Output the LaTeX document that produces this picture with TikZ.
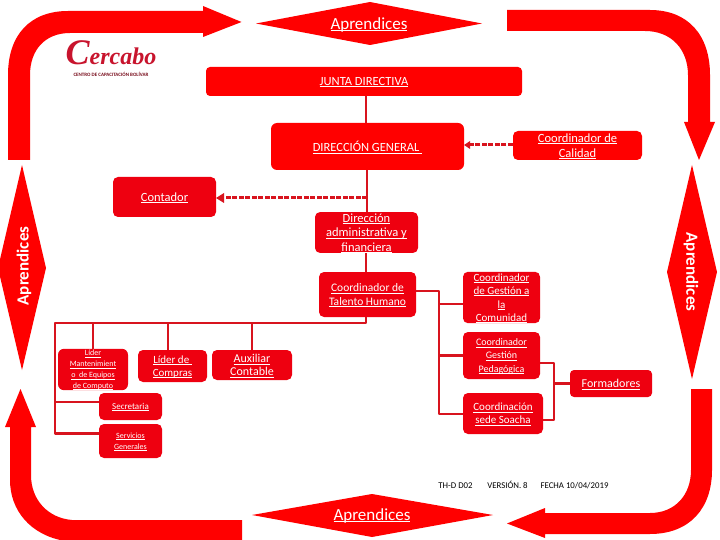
\documentclass[tikz,border=0pt]{standalone}
\usepackage{fontspec}
\setmainfont{Carlito}
\newfontfamily\logofont{Liberation Serif}
\newcommand{\ul}[1]{\setbox0\hbox{#1}\leavevmode\rlap{\raisebox{-1.6pt}{\rlap{\rule[-1.7pt]{\wd0}{0.8pt}}\copy0}}\phantom{\box0}}
\tikzset{
  x=1pt,y=-1pt,
  bright/.style={fill=brightred,draw=none},
  orgbox/.style={fill=boxred,draw=none,rounded corners=5pt,text=white,align=center,inner sep=0pt},
  conn/.style={draw=linered,line width=2.6pt,line join=round},
  dashconn/.style={draw=linered,line width=3pt,dash pattern=on 5pt off 1.5pt},
  tip/.style={fill=linered,draw=none},
  banner/.style={text=white,inner sep=0pt},
  foot/.style={text=black,font=\fontsize{8.8}{9}\selectfont,inner sep=0pt,anchor=base}
}
\definecolor{brightred}{HTML}{FF0000}
\definecolor{boxred}{HTML}{EE0010}
\definecolor{linered}{HTML}{D8141E}
\definecolor{logored}{HTML}{C8142D}
\newcommand{\fs}[1]{\fontsize{#1}{#1}\selectfont}
\begin{document}
\begin{tikzpicture}
\useasboundingbox (0,0) rectangle (720,540);
\fill[white] (0,0) rectangle (720,540);
% big arrows
\fill[bright] (8,160) -- (8,75) .. controls (8,35) and (30,11) .. (68,11) -- (203,11) -- (203,6) -- (241.5,22) -- (203,37) -- (203,33) -- (70,33) .. controls (45,33) and (30,50) .. (30,75) -- (30,160) -- cycle;
\fill[bright] (507,10) -- (650,10) .. controls (688,10) and (710,35) .. (710,75) -- (710,122) -- (715,122) -- (699,160) -- (684,122) -- (688,122) -- (688,75) .. controls (688,50) and (672,31) .. (645,31) -- (507,31) -- cycle;
\fill[bright] (691,389) -- (712,389) -- (712,470) .. controls (712,508) and (690,534) .. (650,534) -- (545,534) -- (545,538) -- (507,523.5) -- (545,508) -- (545,513) -- (650,513) .. controls (675,513) and (691,495) .. (691,470) -- cycle;
\fill[bright] (242,520) -- (242,541) -- (65,541) .. controls (30,535) and (10,510) .. (10,480) -- (10,427) -- (5,427) -- (20.5,389) -- (36,427) -- (31,427) -- (31,475) .. controls (31,500) and (48,518) .. (72,520) -- cycle;
% diamonds
\fill[bright] (256,23.5) -- (370,2) -- (482,23.5) -- (370,45) -- cycle;
\fill[bright] (252,515) -- (372,494) -- (493,515) -- (372,537) -- cycle;
\fill[bright] (22,165) -- (46,268) -- (22,370) -- (-2,268) -- cycle;
\fill[bright] (692,165) -- (717,272) -- (692,379) -- (667,272) -- cycle;
\node[banner,font=\fs{17}] (aprtop) at (369,24) {\ul{Aprendices}};
\node[banner,font=\fs{17}] (aprbot) at (372,515) {\ul{Aprendices}};
\node[banner,font=\fs{17}\bfseries,rotate=90] (aprleft) at (24,266) {Aprendices};
\node[banner,font=\fs{17}\bfseries,rotate=-90] (aprright) at (691,272) {Aprendices};
% logo
\node[text=logored,inner sep=0pt,font=\logofont\bfseries\itshape] (logo) at (111,53) {\fs{36}C\fs{24}ercabo};
\node[text=logored!60!black,inner sep=0pt,font=\fs{5}\bfseries] (logosub) at (111,74.5) {CENTRO DE CAPACITACIÓN BOLÍVAR};
% boxes
\node[orgbox,fill=brightred,rounded corners=4pt,minimum width=316pt,minimum height=29pt,font=\fs{12.5}] (junta) at (364,81.5) {\ul{JUNTA DIRECTIVA}};
\node[orgbox,fill=brightred,rounded corners=6pt,minimum width=193pt,minimum height=47pt,font=\fs{12.5}] (dir) at (367.5,146.5) {\ul{DIRECCIÓN GENERAL\ }};
\node[orgbox,fill=brightred,minimum width=129pt,minimum height=29pt,font=\fs{12.5}] (cal) at (577.5,145.5) {\ul{Coordinador de}\\[2pt]\ul{Calidad}};
\node[orgbox,rounded corners=5pt,minimum width=103pt,minimum height=40pt,font=\fs{12.5}] (cont) at (164.5,197) {\ul{Contador}};
\node[orgbox,minimum width=103pt,minimum height=39pt,font=\fs{12.5}] (adm) at (366.5,232.5) {\ul{Dirección}\\[2pt]\ul{administrativa y}\\[2pt]\ul{financiera}};
\node[orgbox,minimum width=97pt,minimum height=45pt,font=\fs{11.5}] (th) at (367.5,294.5) {\ul{Coordinador de}\\[2pt]\ul{Talento Humano}};
\node[orgbox,minimum width=77pt,minimum height=51pt,font=\fs{11}] (com) at (501.5,297.5) {\ul{Coordinador}\\[2.5pt]\ul{de Gestión a}\\[2.5pt]\ul{la}\\[2.5pt]\ul{Comunidad}};
\node[orgbox,minimum width=77pt,minimum height=47pt,font=\fs{10}] (ped) at (501.5,355.5) {\ul{Coordinador}\\[2pt]\ul{Gestión}\\[2pt]\ul{Pedagógica}};
\node[orgbox,minimum width=80pt,minimum height=41pt,font=\fs{11}] (sede) at (503,413.5) {\ul{Coordinación}\\[2pt]\ul{sede Soacha}};
\node[orgbox,rounded corners=4pt,minimum width=82pt,minimum height=27pt,font=\fs{12}] (form) at (611,383.5) {\ul{Formadores}};
\node[orgbox,rounded corners=6pt,minimum width=70pt,minimum height=41pt,font=\fs{8}] (mant) at (93,369.5) {\ul{Líder}\\[1pt]\ul{Mantenimient}\\[1pt]\ul{o\ \ de Equipos}\\[1pt]\ul{de Computo}};
\node[orgbox,minimum width=69pt,minimum height=32pt,font=\fs{11}] (comp) at (172.5,366) {\ul{Líder de\ }\\[2pt]\ul{Compras}};
\node[orgbox,minimum width=80pt,minimum height=30pt,font=\fs{12}] (aux) at (252,365) {\ul{Auxiliar}\\[1pt]\ul{Contable}};
\node[orgbox,minimum width=63pt,minimum height=27pt,font=\fs{9}] (sec) at (130.5,406.5) {\ul{Secretaria}};
\node[orgbox,minimum width=63pt,minimum height=34pt,font=\fs{8}] (serv) at (130.5,441) {\ul{Servicios}\\[1pt]\ul{Generales}};
% connectors
\coordinate (busl) at (55,323);
\coordinate (busr) at (366,323);
\coordinate (elbowa) at (439,291);
\coordinate (elbowb) at (439,414);
\coordinate (elbowc) at (554,363);
\coordinate (elbowd) at (554,420);
\coordinate (dashc) at (367,198);
\coordinate (secy) at (0,402);
\coordinate (servy) at (0,433.5);
\coordinate (comy) at (0,304);
\coordinate (caly) at (0,145);
\draw[conn] (junta.south -| 366,0) -- (dir.north -| 366,0);
\draw[conn] (dir.south -| 367,0) -- (adm.north -| 367,0);
\draw[conn] (adm.south -| 366,0) -- (th.north -| 366,0);
\draw[conn] (th.south -| 366,0) -- (busr) -- (busl) -- (busl |- servy) -- (serv.west |- servy);
\draw[conn] (sec.west |- secy) -- (busl |- secy);
\draw[conn] (mant.north) -- (mant.north |- busl);
\draw[conn] (168,350) -- (168,323);
\draw[conn] (aux.north) -- (aux.north |- busl);
\draw[conn] (th.east |- elbowa) -- (elbowa) -- (elbowb) -- (sede.west |- elbowb);
\draw[conn] (elbowa |- comy) -- (com.west |- comy);
\draw[conn] (elbowa |- ped.west) -- (ped.west);
\draw[conn] (ped.east |- elbowc) -- (elbowc) -- (elbowd) -- (sede.east |- elbowd);
\draw[conn] (elbowc |- form.west) -- (form.west);
% dashed arrows
\draw[dashconn] (cal.west |- caly) -- (470,145);
\fill[tip] (464,145) -- (470,141) -- (470,149) -- cycle;
\draw[dashconn] (dashc) -- (224,198);
\fill[tip] (216,198) -- (224,193) -- (224,203) -- cycle;
% footer
\node[foot] (f1) at (455.5,488) {TH-D D02};
\node[foot] (f2) at (507.5,488) {VERSIÓN. 8};
\node[foot] (f3) at (574.5,488) {FECHA 10/04/2019};
\end{tikzpicture}
\end{document}
